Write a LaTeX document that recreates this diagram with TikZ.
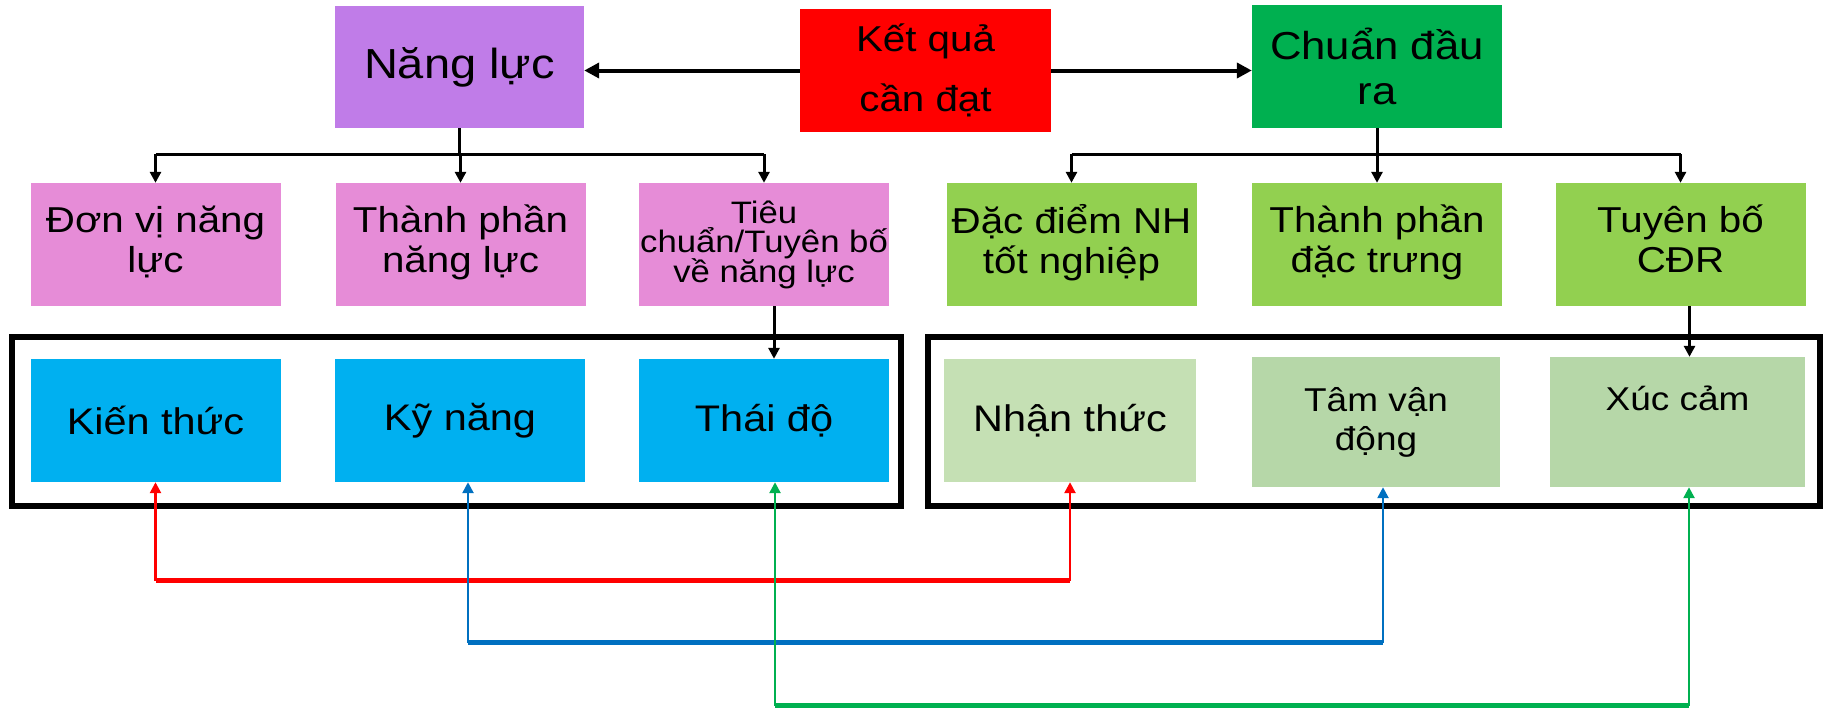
\documentclass[tikz,border=0pt]{standalone}
\usepackage{fontspec}
\setmainfont{Liberation Sans}[FakeStretch=1.12]
\usetikzlibrary{arrows.meta}

\definecolor{cpurple}{RGB}{192,124,232}
\definecolor{cred}{RGB}{255,0,0}
\definecolor{cgreen}{RGB}{0,176,80}
\definecolor{cpink}{RGB}{230,140,215}
\definecolor{clime}{RGB}{146,208,80}
\definecolor{csky}{RGB}{0,176,240}
\definecolor{cpale}{RGB}{197,224,180}
\definecolor{csage}{RGB}{182,215,168}
\definecolor{lred}{RGB}{255,0,0}
\definecolor{lblue}{RGB}{0,112,192}
\definecolor{lgreen}{RGB}{0,176,80}

\newcommand{\tightlines}[1]{\parbox{250pt}{\centering\fontsize{31}{29.5}\selectfont\lineskiplimit=-100pt\relax #1}}

\tikzset{
  box/.style={draw=none, inner sep=0pt, align=center, text=black,
    minimum width=250pt, minimum height=123pt},
  topfont/.style={font=\fontsize{39}{45}\selectfont},
  midfont/.style={font=\fontsize{36}{40}\selectfont},
  smallfont/.style={font=\fontsize{31}{29.5}\selectfont},
  lowfont/.style={font=\fontsize{37}{43}\selectfont},
  lowfontb/.style={font=\fontsize{33}{39}\selectfont},
  frame/.style={draw=black, line width=6pt, inner sep=0pt},
  mainarrow/.style={line width=4pt, -{Triangle[length=15pt,width=15pt]}},
  tree/.style={line width=3pt},
  treearrow/.style={line width=3pt, -{Triangle[length=11pt,width=11pt]}},
  link/.style={line width=2.5pt, {Triangle[length=11pt,width=11pt]}-{Triangle[length=11pt,width=11pt]}},
  linkbar/.style={line width=5pt}
}

\begin{document}
\begin{tikzpicture}[x=1pt,y=-1pt]
\useasboundingbox[fill=white] (0,0) rectangle (1827,712);

% top row
\node[box, fill=cpurple, minimum width=249pt, minimum height=122pt,
      font=\fontsize{42}{48}\selectfont] (nl) at (459.5,67) {Năng lực};
\node[box, fill=cred, minimum width=251pt, minimum height=123pt,
      font=\fontsize{36}{60}\selectfont] (kq) at (925.5,70.5) {Kết quả\\cần đạt};
\node[box, fill=cgreen, topfont, minimum width=250pt, minimum height=123pt] (cd) at (1377,66.5) {Chuẩn đầu\\ra};

% second row
\node[box, fill=cpink, midfont] (p1) at (155.5,244.5) {\raisebox{3pt}{\begin{tabular}{@{}c@{}}Đơn vị năng\\lực\end{tabular}}};
\node[box, fill=cpink, midfont] (p2) at (460.5,244.5) {\raisebox{3pt}{\begin{tabular}{@{}c@{}}Thành phần\\năng lực\end{tabular}}};
\node[box, fill=cpink, smallfont] (p3) at (764,244.5) {\raisebox{8pt}{\tightlines{Tiêu\\chuẩn/Tuyên bố\\về năng lực}}};
\node[box, fill=clime, midfont] (g1) at (1071.5,244.5) {\raisebox{3pt}{\begin{tabular}{@{}c@{}}Đặc điểm NH\\tốt nghiệp\end{tabular}}};
\node[box, fill=clime, midfont] (g2) at (1377,244.5) {\raisebox{3pt}{\begin{tabular}{@{}c@{}}Thành phần\\đặc trưng\end{tabular}}};
\node[box, fill=clime, midfont] (g3) at (1680.5,244.5) {\raisebox{3pt}{\begin{tabular}{@{}c@{}}Tuyên bố\\CĐR\end{tabular}}};

% frames around the third row
\node[frame, minimum width=889pt, minimum height=169pt] (fl) at (456.5,421) {};
\node[frame, minimum width=892pt, minimum height=169pt] (fr) at (1374,421) {};

% third row
\node[box, fill=csky, lowfont] (b1) at (155.5,420.5) {Kiến thức};
\node[box, fill=csky, lowfont] (b2) at (460,420.5) {Kỹ năng};
\node[box, fill=csky, lowfont] (b3) at (764,420.5) {Thái độ};
\node[box, fill=cpale, lowfont, minimum width=252pt] (l1) at (1070,420.5) {Nhận thức};
\node[box, fill=csage, lowfontb, minimum width=248pt, minimum height=130pt] (l2) at (1376,422) {Tâm vận\\động};
\node[box, fill=csage, lowfontb, minimum width=255pt, minimum height=130pt] (l3) at (1677.5,422) {\raisebox{3pt}{\begin{tabular}{@{}c@{}}Xúc cảm\\\mbox{}\end{tabular}}};

% top arrows
\draw[mainarrow] (kq.west) -- (kq.west -| nl.east);
\draw[mainarrow] (kq.east) -- (kq.east -| cd.west);

% left tree
\coordinate (lbar) at (0,154);
\draw[tree] (nl.south) -- (nl.south |- lbar);
\draw[tree] (p1.north |- lbar) -- (p3.north |- lbar);
\draw[treearrow] (p1.north |- lbar) -- (p1.north);
\draw[treearrow] (p2.north |- lbar) -- (p2.north);
\draw[treearrow] (p3.north |- lbar) -- (p3.north);

% right tree
\draw[tree] (cd.south) -- (cd.south |- lbar);
\draw[tree] (g1.north |- lbar) -- (g3.north |- lbar);
\draw[treearrow] (g1.north |- lbar) -- (g1.north);
\draw[treearrow] (g2.north |- lbar) -- (g2.north);
\draw[treearrow] (g3.north |- lbar) -- (g3.north);

% into the third row
\draw[treearrow] ([xshift=10pt]p3.south) -- ([xshift=10pt]p3.south |- b3.north);
\draw[treearrow] ([xshift=9pt]g3.south) -- ([xshift=9pt]g3.south |- l3.north);

% correspondence links
\coordinate (rbar) at (0,580);
\coordinate (bbar) at (0,642);
\coordinate (gbar) at (0,705);

\draw[link, lred] (b1.south) -- (b1.south |- rbar) -- (l1.south |- rbar) -- (l1.south);
\draw[linkbar, lred] (b1.south |- rbar) -- (l1.south |- rbar);

\draw[link, lblue] ([xshift=8pt]b2.south) -- ([xshift=8pt]b2.south |- bbar)
  -- ([xshift=7pt]l2.south |- bbar) -- ([xshift=7pt]l2.south);
\draw[linkbar, lblue] ([xshift=8pt]b2.south |- bbar) -- ([xshift=7pt]l2.south |- bbar);

\draw[link, lgreen] ([xshift=11pt]b3.south) -- ([xshift=11pt]b3.south |- gbar)
  -- ([xshift=11.5pt]l3.south |- gbar) -- ([xshift=11.5pt]l3.south);
\draw[linkbar, lgreen] ([xshift=11pt]b3.south |- gbar) -- ([xshift=11.5pt]l3.south |- gbar);
\end{tikzpicture}
\end{document}
